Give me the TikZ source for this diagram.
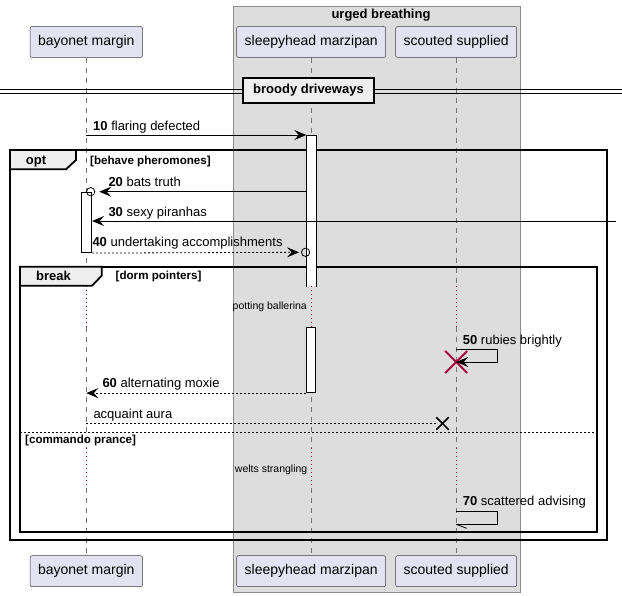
\documentclass[tikz,border=0pt]{standalone}
\usepackage{fontspec}
\setmainfont{Liberation Sans}
\usepackage{xcolor}
\usetikzlibrary{positioning}
\usetikzlibrary{arrows.meta}
\usetikzlibrary{shapes.misc}
\definecolor{partfill}{HTML}{E2E2F0}
\definecolor{boxgray}{HTML}{DDDDDD}
\definecolor{tabgray}{HTML}{EEEEEE}
\definecolor{delayred}{HTML}{A80036}
\newcommand\msgfont{\fontsize{13}{15}\selectfont}
\newcommand\boldfont{\fontsize{13}{15}\selectfont\bfseries}

\begin{document}
\begin{tikzpicture}[x=1pt, y=-1pt,
		participant/.style={draw=black!75, line width=0.5pt, fill=partfill, rounded corners=2pt, minimum height=31pt, inner xsep=8pt, font=\fontsize{14}{16}\selectfont},
		life/.style={draw=black!55, line width=0.6pt, dash pattern=on 5pt off 5pt},
		delayline/.style={draw=delayred, line width=0.8pt, dash pattern=on 1pt off 3pt},
		msg/.style={anchor=base west, inner sep=0pt, font=\msgfont},
		guard/.style={anchor=base west, inner sep=0pt, font=\fontsize{11.6}{13}\selectfont\bfseries},
		delaytext/.style={anchor=base east, inner sep=0pt, font=\fontsize{10.5}{12}\selectfont},
		frame/.style={draw=black, line width=1.8pt},
		tab/.style={draw=black, line width=1.8pt, fill=tabgray},
		activ/.style={fill=white, line width=0.8pt, minimum width=9pt, inner sep=0pt, anchor=north},
		call/.style={line width=0.8pt, -{Stealth[length=12pt, width=10pt, inset=4.5pt]}},
		reply/.style={call, dash pattern=on 2pt off 2pt},
		ring/.style={draw, circle, line width=0.8pt, minimum size=8.3pt, inner sep=0pt}
	]
	\useasboundingbox (0,0) rectangle (622,596);

	% the box round two participants
	\draw[draw=black!45, line width=0.6pt, fill=boxgray] (233,6) rectangle (520,592);
	\node[anchor=base, inner sep=0pt, font=\boldfont] (boxtitle) at (381,18.3) {urged breathing};

	\node[participant] (bayonet) at (86.3,42) {bayonet margin};
	\node[participant] (sleepy) at (311.2,42) {sleepyhead marzipan};
	\node[participant] (scouted) at (456.2,42) {scouted supplied};
	\node[participant] (bayonet-b) at (86.3,571.2) {bayonet margin};
	\node[participant] (sleepy-b) at (311.2,571.2) {sleepyhead marzipan};
	\node[participant] (scouted-b) at (456.2,571.2) {scouted supplied};

	\foreach \p in {bayonet, sleepy, scouted} {
		\draw[life] (\p.south) -- (\p |- 0,286);
		\draw[delayline] (\p |- 0,286) -- (\p |- 0,326.7);
		\draw[life] (\p |- 0,326.7) -- (\p |- 0,448);
		\draw[delayline] (\p |- 0,448) -- (\p |- 0,488);
		\draw[life] (\p |- 0,488) -- (\p-b.north);
	}

	% divider
	\draw[line width=0.8pt] (0,89.3) -- (622,89.3);
	\draw[line width=0.8pt] (0,93.3) -- (622,93.3);
	\node[draw, line width=1.8pt, fill=tabgray, minimum width=131pt, minimum height=25pt, inner sep=0pt, font=\boldfont] (divider) at (308.5,90.5) {broody driveways};

	% opt
	\draw[frame] (10,150) rectangle (606.7,540);
	\draw[tab] (10,150) -- (76,150) -- (76,160) -- (66,169.3) -- (10,169.3) -- cycle;
	\node[anchor=base, inner sep=0pt, font=\boldfont] (optname) at (36,164.5) {opt};
	\node[guard] (optguard) at (90,164.5) {[behave pheromones]};

	% break
	\draw[frame] (20,266.7) rectangle (596.7,531.7);
	\draw[tab] (20,266.7) -- (101.7,266.7) -- (101.7,275.7) -- (92,285.7) -- (20,285.7) -- cycle;
	\node[anchor=base, inner sep=0pt, font=\boldfont] (breakname) at (53.5,281) {break};
	\node[guard] (breakguard) at (115.5,279.7) {[dorm pointers]};
	\draw[line width=0.6pt, dash pattern=on 2pt off 2pt] (20,432.3) -- (596.7,432.3);
	\node[guard] (elseguard) at (25,443.3) {[commando prance]};

	\node[delaytext] (delay1) at (307,310) {potting ballerina};
	\node[delaytext] (delay2) at (307.5,472.7) {welts strangling};

	% activations
	\node[activ, minimum height=151pt] (act1) at (311.2,135) {};
	\draw[line width=0.8pt] (act1.south west) -- (act1.north west) -- (act1.north east) -- (act1.south east);
	\node[activ, draw, minimum height=65.6pt] (act2) at (311.2,326.7) {};
	\node[activ, draw, minimum width=10.7pt, minimum height=60.6pt] (actb) at (86.3,191.7) {};

	% messages
	\draw[call] (bayonet |- act1.north) -- (act1.north west);
	\node[msg] (m10) at (93,130.3) {\textbf{10} flaring defected};

	\node[ring] (c20) at (90.7,191.7) {};
	\draw[call] (act1.west |- c20) -- ([xshift=4pt]c20.east);
	\node[msg] (m20) at (108.3,186.5) {\textbf{20} bats truth};

	\coordinate (edge30) at (616,221);
	\draw[call] (edge30) -- (actb.east |- edge30);
	\node[msg] (m30) at (108.3,216.3) {\textbf{30} sexy piranhas};

	\node[ring] (c40) at (305.6,252.3) {};
	\draw[reply] (actb.south east) -- ([xshift=-2pt]c40.west);
	\node[msg] (m40) at (92.3,246.8) {\textbf{40} undertaking accomplishments};

	\node[cross out, draw=delayred, line width=2pt, minimum size=20pt, inner sep=0pt] (kill) at (456.2,362) {};
	\coordinate (s50) at (scouted |- 0,349.3);
	\draw[call] (s50) -- ++(41.5,0) |- (kill.center);
	\node[msg] (m50) at (462.7,344.3) {\textbf{50} rubies brightly};

	\draw[reply] (act2.south west) -- (bayonet |- act2.south);
	\node[msg] (m60) at (102.3,387.3) {\textbf{60} alternating moxie};

	\node[cross out, draw, line width=1.5pt, minimum size=11pt, inner sep=0pt] (lost) at (442.5,423.5) {};
	\draw[line width=0.8pt, dash pattern=on 2pt off 2pt] (bayonet |- lost) -- (lost.west);
	\node[msg] (maura) at (93.3,418.3) {acquaint aura};

	\coordinate (s70) at (scouted |- 0,511.7);
	\draw[line width=0.8pt] (s70) -- ++(41.5,0) |- (scouted |- 0,524.3) coordinate (e70);
	\draw[line width=0.8pt] (e70) -- ++(10.5,4);
	\node[msg] (m70) at (462.7,505) {\textbf{70} scattered advising};
\end{tikzpicture}
\end{document}
